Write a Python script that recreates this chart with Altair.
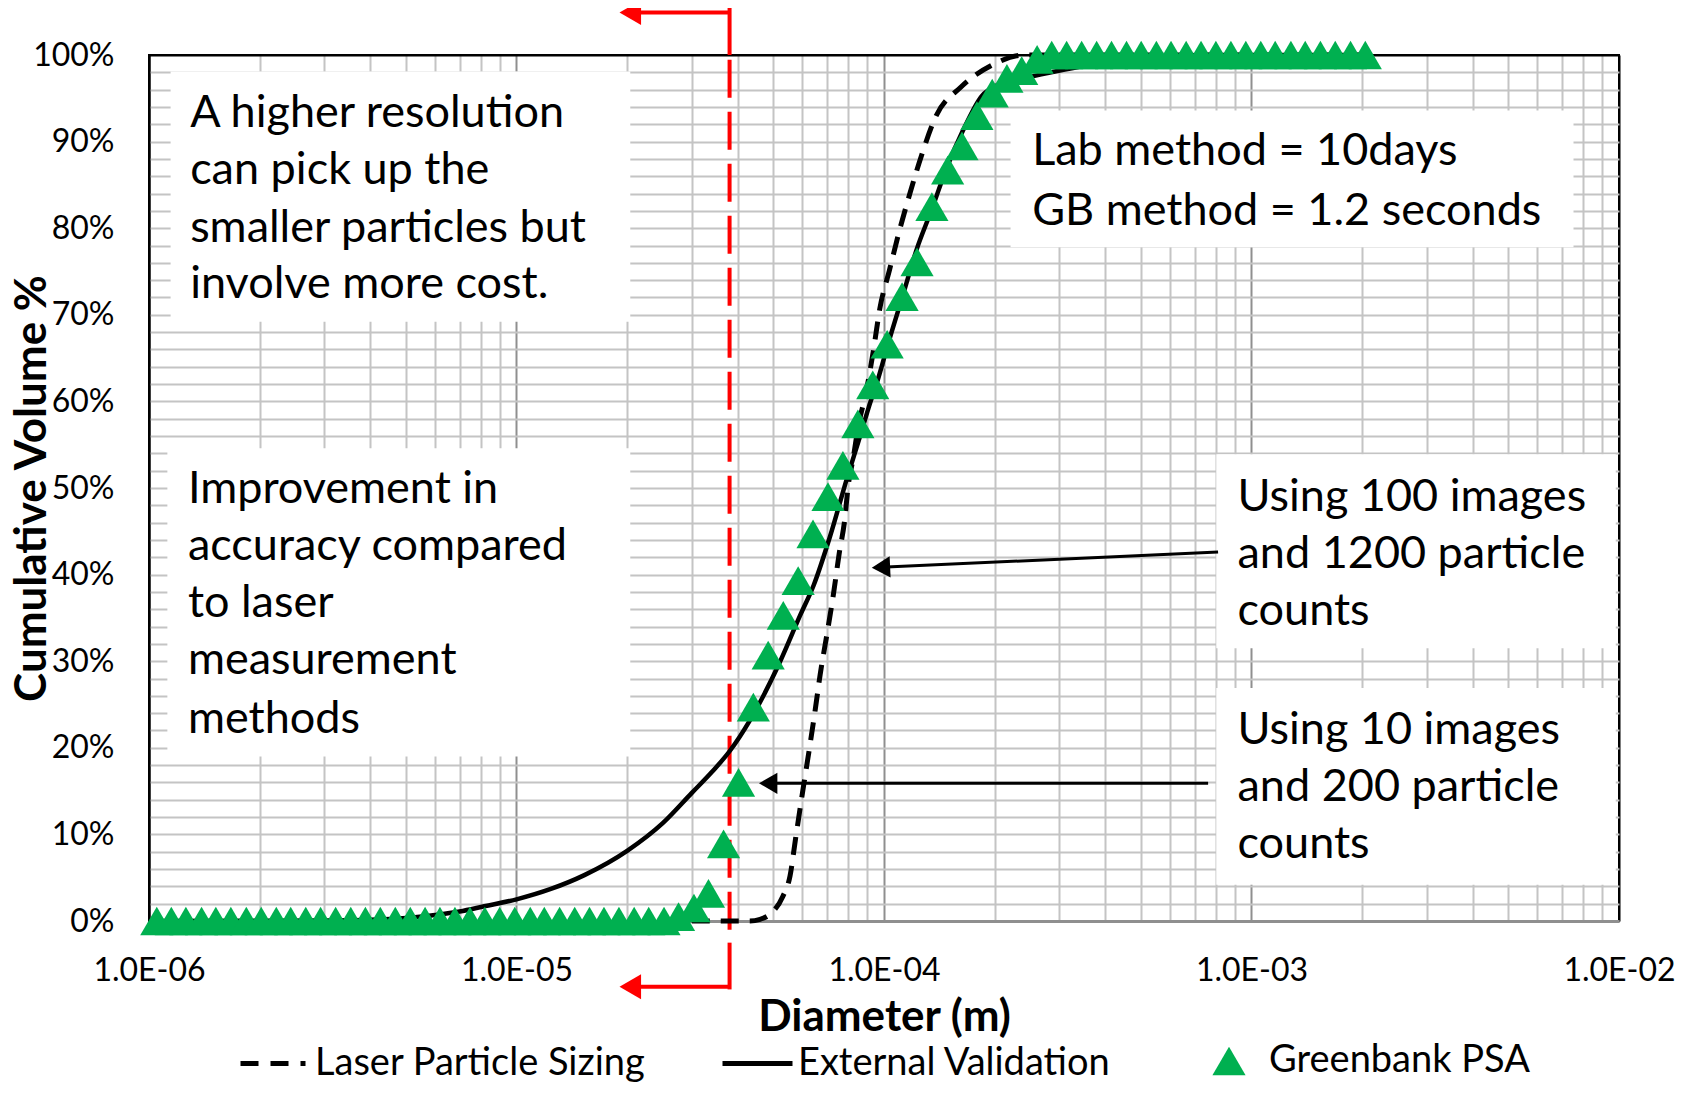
import json
import altair as alt
import pandas as pd

# ---------------- data ----------------
# Greenbank PSA (triangles): diameter (m) and cumulative volume %
GB_D = [1.05e-6, 1.15e-6, 1.26e-6, 1.39e-6, 1.52e-6, 1.67e-6, 1.84e-6, 2.02e-6, 2.22e-6, 2.43e-6,
        2.67e-6, 2.93e-6, 3.22e-6, 3.54e-6, 3.88e-6, 4.26e-6, 4.68e-6, 5.14e-6, 5.64e-6, 6.19e-6,
        6.80e-6, 7.47e-6, 8.20e-6, 9.00e-6, 9.89e-6,
        1.09e-5, 1.19e-5, 1.31e-5, 1.44e-5, 1.58e-5, 1.73e-5, 1.90e-5, 2.09e-5, 2.29e-5, 2.52e-5,
        2.76e-5, 3.04e-5, 3.33e-5, 3.66e-5, 4.02e-5, 4.41e-5, 4.84e-5, 5.32e-5, 5.84e-5, 6.41e-5,
        7.04e-5, 7.73e-5, 8.49e-5, 9.32e-5,
        1.02e-4, 1.12e-4, 1.23e-4, 1.35e-4, 1.49e-4, 1.63e-4, 1.79e-4, 1.97e-4, 2.16e-4, 2.37e-4,
        2.61e-4, 2.86e-4, 3.14e-4, 3.45e-4, 3.79e-4, 4.16e-4, 4.57e-4, 5.01e-4, 5.51e-4, 6.04e-4,
        6.64e-4, 7.29e-4, 8.00e-4, 8.79e-4, 9.65e-4,
        1.06e-3, 1.16e-3, 1.28e-3, 1.40e-3, 1.54e-3, 1.69e-3, 1.86e-3, 2.04e-3]
GB_PCT = [0, 0, 0, 0, 0, 0, 0, 0, 0, 0,
          0, 0, 0, 0, 0, 0, 0, 0, 0, 0,
          0, 0, 0, 0, 0,
          0, 0, 0, 0, 0, 0, 0, 0, 0, 0,
          0.5, 1.5, 3.2, 8.9, 16.0, 24.7, 30.7, 35.3, 39.3, 44.7,
          49.0, 52.6, 57.4, 61.9,
          66.6, 72.1, 76.1, 82.5, 86.7, 89.5, 93.0, 95.6, 97.3, 98.2,
          99.5, 100, 100, 100, 100, 100, 100, 100, 100, 100,
          100, 100, 100, 100, 100,
          100, 100, 100, 100, 100, 100, 100, 100]

# External Validation (solid line)
EV_D = [1.0e-6, 2.0e-6, 3.0e-6, 4.0e-6, 5.0e-6, 6.0e-6, 7.0e-6, 8.17e-6, 1.0e-5, 1.24e-5,
        1.53e-5, 2.0e-5, 2.5e-5, 3.0e-5, 3.4e-5, 3.8e-5, 4.32e-5, 5.22e-5, 5.9e-5, 6.44e-5,
        7.13e-5, 7.94e-5, 8.61e-5, 9.07e-5, 9.65e-5, 1.027e-4, 1.13e-4, 1.226e-4, 1.347e-4, 1.479e-4,
        1.641e-4, 1.84e-4, 2.08e-4, 2.51e-4, 3.08e-4, 3.85e-4, 5.15e-4, 7.2e-4, 2.0e-3]
EV_PCT = [0, 0.02, 0.06, 0.15, 0.35, 0.7, 1.1, 1.7, 2.5, 3.7,
          5.3, 8.1, 11.3, 14.8, 17.2, 19.6, 23.2, 30.0, 35.2, 38.8,
          44.4, 51.2, 56.0, 59.2, 62.7, 66.7, 72.5, 77.5, 82.1, 86.9,
          91.3, 95.2, 96.7, 97.5, 98.3, 99.0, 99.6, 100, 100]

# Laser Particle Sizing (dashed line)
LP_D = [2.5e-5, 4.3e-5, 4.6e-5, 4.9e-5, 5.3e-5, 5.55e-5, 5.75e-5, 6.0e-5, 6.25e-5, 6.5e-5,
        6.7e-5, 7.0e-5, 7.3e-5, 7.55e-5, 7.8e-5, 8.0e-5, 8.25e-5, 8.5e-5, 8.95e-5, 9.36e-5,
        9.75e-5, 1.034e-4, 1.098e-4, 1.176e-4, 1.265e-4, 1.38e-4, 1.62e-4, 1.98e-4, 2.41e-4, 2.0e-3]
LP_PCT = [0, 0, 0.2, 0.8, 2.8, 5.2, 9.6, 14.8, 19.6, 24.4,
          28.4, 33.2, 38.0, 42.4, 46.0, 50.4, 53.5, 57.0, 61.2, 65.9,
          70.8, 75.1, 79.5, 84.0, 88.4, 92.8, 96.3, 98.9, 100, 100]

SERIES = ["Laser Particle Sizing", "External Validation", "Greenbank PSA"]

# axis ticks / labels
X_TICKS = [1e-6, 1e-5, 1e-4, 1e-3, 1e-2]
X_TICK_LABELS = ["1.0E-06", "1.0E-05", "1.0E-04", "1.0E-03", "1.0E-02"]
X_GRID = [m * 10.0 ** e for e in range(-6, -2) for m in range(1, 10)] + [1e-2]
Y_GRID = list(range(0, 101, 2))

# annotation texts (x = left edge diameter, y = % of line centre)
ANN_X = [1.294e-6, 1.294e-6, 1.294e-6, 1.294e-6,
         2.53e-4, 2.53e-4,
         1.276e-6, 1.276e-6, 1.276e-6, 1.276e-6, 1.276e-6,
         9.16e-4, 9.16e-4, 9.16e-4,
         9.16e-4, 9.16e-4, 9.16e-4]
ANN_Y = [93.3, 86.7, 80.0, 73.5,
         88.9, 82.0,
         49.9, 43.3, 36.7, 30.1, 23.3,
         49.0, 42.4, 35.8,
         22.0, 15.5, 8.9]
ANN_TEXT = ["A higher resolution", "can pick up the", "smaller particles but", "involve more cost.",
            "Lab method = 10days", "GB method = 1.2 seconds",
            "Improvement in", "accuracy compared", "to laser", "measurement", "methods",
            "Using 100 images", "and 1200 particle", "counts",
            "Using 10 images", "and 200 particle", "counts"]

# white text boxes
BOX_X = [1.145e-6, 2.21e-4, 1.122e-6, 8.02e-4, 8.02e-4]
BOX_X2 = [2.04e-5, 7.52e-3, 2.04e-5, 9.8e-3, 9.8e-3]
BOX_Y = [69.2, 77.8, 19.0, 31.5, 4.2]
BOX_Y2 = [98.1, 93.6, 54.6, 53.9, 26.9]

# red cut-off marker
RED_D = 3.8e-5
RED_HEAD_D = 2.04e-5
RED_TOP = [100.0, 105.8]
RED_BOTTOM = [-2.5, -7.9]
RED_ARROW_Y = [104.9, -7.6]

# black arrows: start (x, y) -> head (x, y)
ARR_X = [8.11e-4, 7.62e-4]
ARR_Y = [42.6, 15.9]
ARR_HX = [9.81e-5, 4.84e-5]
ARR_HY = [40.85, 15.9]

FONT = "Lato"
GREEN = "#00B050"
RED = "#FF0000"
GRID_LIGHT = "#c4c4c4"
GRID_DARK = "#8f8f8f"

# ---------------- chart ----------------
DECADE = "abs(log(datum.value)/LN10 - round(log(datum.value)/LN10)) < 0.001"
x_label_expr = f"{DECADE} ? {json.dumps(X_TICK_LABELS)}[round(log(datum.value)/LN10) + 6] : ''"

xscale = alt.Scale(type="log", domain=[X_TICKS[0], X_TICKS[-1]], nice=False)
yscale = alt.Scale(domain=[0, 100], nice=False, zero=False)

xaxis = alt.Axis(
    values=X_GRID, labelExpr=x_label_expr, grid=True,
    gridColor={"condition": [{"test": "datum.value > 0.0099 || datum.value < 1.01e-6", "value": "black"},
                             {"test": DECADE, "value": GRID_DARK}],
               "value": GRID_LIGHT},
    gridWidth=2, ticks=False, tickSize=0, labelPadding=49, labelBaseline="middle",
    labelFont=FONT, labelFontSize=32, labelColor="black", labelFlush=False,
    labelOverlap=False, labelBound=False,
    title="Diameter (m)", titleFont=FONT, titleFontSize=44, titleFontWeight="bold",
    titleColor="black", titleY=96, titleBaseline="middle",
    domainColor=GRID_DARK, domainWidth=3,
)
yaxis = alt.Axis(
    values=Y_GRID, labelExpr="datum.value % 10 === 0 ? datum.value + '%' : ''",
    grid=True,
    gridColor={"condition": [{"test": "datum.value === 100", "value": "black"},
                             {"test": "datum.value === 0", "value": GRID_DARK}],
               "value": GRID_LIGHT},
    gridWidth=2, ticks=False, tickSize=0,
    labelPadding=35, labelFont=FONT, labelFontSize=32, labelColor="black",
    labelOverlap=False, labelBound=False, labelFlush=False,
    title="Cumulative Volume %", titleFont=FONT, titleFontSize=44, titleFontWeight="bold",
    titleColor="black", titleX=-117, titleY=433, titleBaseline="middle", titleAngle=270,
    domainColor="black", domainWidth=2,
)


def X(field):
    return alt.X(f"{field}:Q", scale=xscale, axis=xaxis)


def Y(field):
    return alt.Y(f"{field}:Q", scale=yscale, axis=yaxis)


gb_df = pd.DataFrame({"d": GB_D, "pct": GB_PCT, "series": SERIES[2]})
ev_df = pd.DataFrame({"d": EV_D, "pct": EV_PCT, "series": SERIES[1]})
lp_df = pd.DataFrame({"d": LP_D, "pct": LP_PCT, "series": SERIES[0]})
ann_df = pd.DataFrame({"d": ANN_X, "pct": ANN_Y, "label": ANN_TEXT})
box_df = pd.DataFrame({"d": BOX_X, "d2": BOX_X2, "pct": BOX_Y, "pct2": BOX_Y2})

red_dash_df = pd.DataFrame({"d": [RED_D], "d2": [RED_D], "pct": [-1.0], "pct2": [100.0]})
red_solid_df = pd.DataFrame({
    "d": [RED_D, RED_D, RED_HEAD_D, RED_HEAD_D],
    "d2": [RED_D, RED_D, RED_D, RED_D],
    "pct": [RED_TOP[0], RED_BOTTOM[0], RED_ARROW_Y[0], RED_ARROW_Y[1]],
    "pct2": [RED_TOP[1], RED_BOTTOM[1], RED_ARROW_Y[0], RED_ARROW_Y[1]],
})
red_head_df = pd.DataFrame({"d": [RED_HEAD_D, RED_HEAD_D], "pct": RED_ARROW_Y})
arr_df = pd.DataFrame({"d": ARR_X, "d2": ARR_HX, "pct": ARR_Y, "pct2": ARR_HY})
arr_head1_df = pd.DataFrame({"d": ARR_HX[:1], "pct": ARR_HY[:1]})
arr_head2_df = pd.DataFrame({"d": ARR_HX[1:], "pct": ARR_HY[1:]})

LEG_Y = 1006
LEG_FS = 38

boxes = alt.Chart(box_df).mark_rect(fill="white", stroke=None).encode(
    x=X("d"), x2="d2", y=Y("pct"), y2="pct2")

red_dash = alt.Chart(red_dash_df).mark_rule(color=RED, strokeWidth=4, strokeDash=[38, 14]).encode(
    x=X("d"), x2="d2", y=Y("pct"), y2="pct2")
red_solid = alt.Chart(red_solid_df).mark_rule(color=RED, strokeWidth=4).encode(
    x=X("d"), x2="d2", y=Y("pct"), y2="pct2")
red_head = alt.Chart(red_head_df).mark_point(
    shape="triangle-left", filled=True, size=620, color=RED, opacity=1).encode(x=X("d"), y=Y("pct"))

ev_line = alt.Chart(ev_df).mark_line(strokeWidth=4.5, interpolate="monotone").encode(
    x=X("d"), y=Y("pct"),
    color=alt.Color("series:N", scale=alt.Scale(domain=[SERIES[1]], range=["black"]),
                    legend=alt.Legend(title=None, orient="none", legendX=571, legendY=LEG_Y - 35,
                                      symbolType="stroke", symbolSize=4900, symbolStrokeWidth=5,
                                      labelFont=FONT, labelFontSize=LEG_FS, labelColor="black",
                                      labelOffset=3, labelLimit=800, padding=0)))
lp_line = alt.Chart(lp_df).mark_line(strokeWidth=5, strokeDash=[18, 11], interpolate="monotone").encode(
    x=X("d"), y=Y("pct"),
    color=alt.Color("series:N", scale=alt.Scale(domain=[SERIES[0]], range=["black"]),
                    legend=alt.Legend(title=None, orient="none", legendX=89, legendY=LEG_Y - 32.5,
                                      symbolType="stroke", symbolSize=4225, symbolStrokeWidth=5,
                                      symbolDash=[18, 12],
                                      labelFont=FONT, labelFontSize=LEG_FS, labelColor="black",
                                      labelOffset=7, labelLimit=800, padding=0)))
gb_pts = alt.Chart(gb_df).mark_point(shape="triangle-up", filled=True, size=1100, opacity=1).encode(
    x=X("d"), y=Y("pct"),
    color=alt.Color("series:N", scale=alt.Scale(domain=[SERIES[2]], range=[GREEN]),
                    legend=alt.Legend(title=None, orient="none", legendX=1061, legendY=LEG_Y - 19,
                                      symbolType="triangle-up", symbolSize=1100, symbolStrokeWidth=0,
                                      labelFont=FONT, labelFontSize=LEG_FS, labelColor="black",
                                      labelOffset=21, labelLimit=800, padding=0)))

arrows = alt.Chart(arr_df).mark_rule(color="black", strokeWidth=3).encode(
    x=X("d"), x2="d2", y=Y("pct"), y2="pct2")
arr_head1 = alt.Chart(arr_head1_df).mark_point(
    shape="triangle-left", filled=True, size=450, color="black", opacity=1, angle=357.4).encode(
    x=X("d"), y=Y("pct"))
arr_head2 = alt.Chart(arr_head2_df).mark_point(
    shape="triangle-left", filled=True, size=450, color="black", opacity=1).encode(
    x=X("d"), y=Y("pct"))

texts = alt.Chart(ann_df).mark_text(
    align="left", baseline="middle", font=FONT, fontSize=45, color="black").encode(
    x=X("d"), y=Y("pct"), text="label:N")

chart = alt.layer(
    boxes, red_dash, red_solid, red_head, ev_line, lp_line, gb_pts,
    arrows, arr_head1, arr_head2, texts,
).resolve_scale(color="independent").properties(
    width=1470, height=866,
    autosize=alt.AutoSizeParams(type="none"),
    padding={"left": 141, "top": 47, "right": 66, "bottom": 162},
    background="white",
).configure_view(stroke="black", strokeWidth=2)

chart.save("out.html", embed_options={"renderer": "svg", "actions": False})
